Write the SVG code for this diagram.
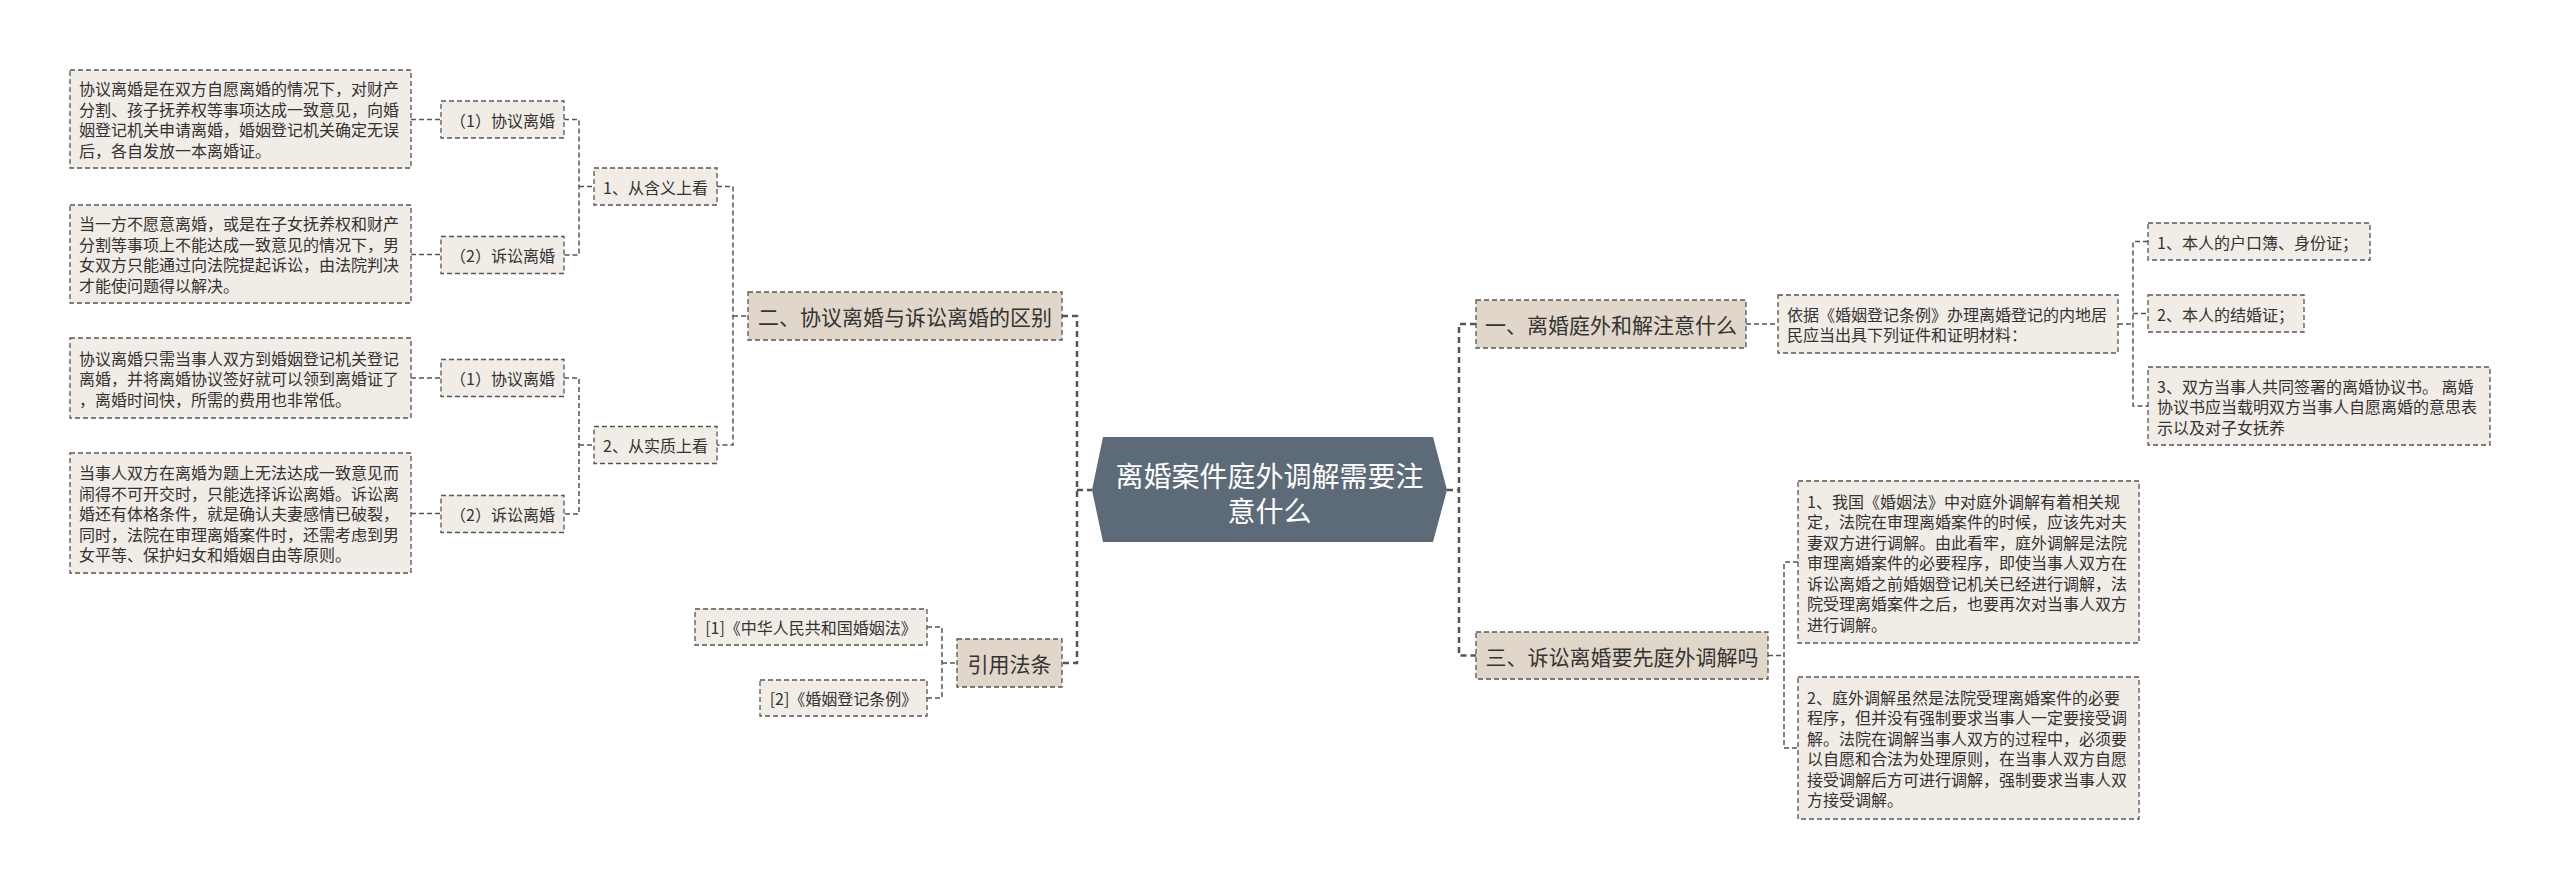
<svg xmlns="http://www.w3.org/2000/svg" width="2560" height="889" viewBox="0 0 2560 889">
<style>
text{font-family:"Noto Sans CJK SC","Noto Sans",sans-serif;fill:#333;dominant-baseline:central}
.s{font-size:16px}
.m{font-size:21px}
.c{text-anchor:middle}
.leaf{fill:#f1ede6;stroke:#555;stroke-width:1.3;stroke-dasharray:5 3}
.l1{fill:#e0d6c9;stroke:#555;stroke-width:1.3;stroke-dasharray:5 3}
.conn{fill:none;stroke:#555;stroke-width:1.5;stroke-dasharray:5 3}
.main{fill:none;stroke:#555;stroke-width:2.5;stroke-dasharray:6 4}
</style>
<rect width="2560" height="889" fill="#fff"/>
<g id="connectors">
<path class="conn" d="M411,119.5H441"/>
<path class="conn" d="M411,254.5H441"/>
<path class="conn" d="M411,378H441"/>
<path class="conn" d="M411,513.5H441"/>
<path class="conn" d="M564,119.5H579V255H564M579,186.5H594"/>
<path class="conn" d="M564,378H579V514H564M579,445H594"/>
<path class="conn" d="M717,186.5H733V445H717M733,316H748"/>
<path class="conn" d="M927,627H942V698H927M942,663H957"/>
<path class="main" d="M1062,316H1077V663H1062M1077,490H1092"/>
<path class="main" d="M1447,490H1459M1476,324H1459V655.5H1476"/>
<path class="conn" d="M1746,324H1778"/>
<path class="conn" d="M2118,324H2133M2148,241.5H2133V406H2148M2133,313.5H2148"/>
<path class="conn" d="M1768,655.5H1784M1798,562H1784V748H1798"/>
</g>
<g id="center">
<polygon points="1092,490 1103,437 1433,437 1447,490 1433,542 1103,542" fill="#5c6b77"/>
<text x="1269.5" y="475" class="c" style="font-size:28px;fill:#fff">离婚案件庭外调解需要注</text>
<text x="1269.5" y="510" class="c" style="font-size:28px;fill:#fff">意什么</text>
</g>
<g id="n2">
<rect class="l1" x="748" y="292" width="314" height="48"/>
<text class="m c" x="905" y="316">二、协议离婚与诉讼离婚的区别</text>
</g>
<g id="n2-1">
<rect class="leaf" x="594" y="168" width="123" height="37"/>
<text class="s c" x="655.5" y="186.5">1、从含义上看</text>
</g>
<g id="n2-2">
<rect class="leaf" x="594" y="426.5" width="123" height="37"/>
<text class="s c" x="655.5" y="445">2、从实质上看</text>
</g>
<g id="n2-1-1">
<rect class="leaf" x="441" y="101" width="123" height="37"/>
<text class="s c" x="502.5" y="119.5">（1）协议离婚</text>
</g>
<g id="n2-1-2">
<rect class="leaf" x="441" y="236.5" width="123" height="37"/>
<text class="s c" x="502.5" y="255">（2）诉讼离婚</text>
</g>
<g id="n2-2-1">
<rect class="leaf" x="441" y="359.5" width="123" height="37"/>
<text class="s c" x="502.5" y="378">（1）协议离婚</text>
</g>
<g id="n2-2-2">
<rect class="leaf" x="441" y="495.5" width="123" height="37"/>
<text class="s c" x="502.5" y="514">（2）诉讼离婚</text>
</g>
<g id="leafA1">
<rect class="leaf" x="70" y="70" width="341" height="98"/>
<text class="s" x="79" y="88.25">协议离婚是在双方自愿离婚的情况下，对财产</text>
<text class="s" x="79" y="108.75">分割、孩子抚养权等事项达成一致意见，向婚</text>
<text class="s" x="79" y="129.25">姻登记机关申请离婚，婚姻登记机关确定无误</text>
<text class="s" x="79" y="149.75">后，各自发放一本离婚证。</text>
</g>
<g id="leafA2">
<rect class="leaf" x="70" y="205" width="341" height="98"/>
<text class="s" x="79" y="223.25">当一方不愿意离婚，或是在子女抚养权和财产</text>
<text class="s" x="79" y="243.75">分割等事项上不能达成一致意见的情况下，男</text>
<text class="s" x="79" y="264.25">女双方只能通过向法院提起诉讼，由法院判决</text>
<text class="s" x="79" y="284.75">才能使问题得以解决。</text>
</g>
<g id="leafA3">
<rect class="leaf" x="70" y="338" width="341" height="80"/>
<text class="s" x="79" y="357.5">协议离婚只需当事人双方到婚姻登记机关登记</text>
<text class="s" x="79" y="378">离婚，并将离婚协议签好就可以领到离婚证了</text>
<text class="s" x="79" y="398.5">，离婚时间快，所需的费用也非常低。</text>
</g>
<g id="leafA4">
<rect class="leaf" x="70" y="453" width="341" height="120"/>
<text class="s" x="79" y="472">当事人双方在离婚为题上无法达成一致意见而</text>
<text class="s" x="79" y="492.5">闹得不可开交时，只能选择诉讼离婚。诉讼离</text>
<text class="s" x="79" y="513">婚还有体格条件，就是确认夫妻感情已破裂，</text>
<text class="s" x="79" y="533.5">同时，法院在审理离婚案件时，还需考虑到男</text>
<text class="s" x="79" y="554">女平等、保护妇女和婚姻自由等原则。</text>
</g>
<g id="ref">
<rect class="l1" x="957" y="639" width="105" height="48"/>
<text class="m c" x="1009.5" y="663">引用法条</text>
</g>
<g id="ref1">
<rect class="leaf" x="695" y="609" width="232" height="36"/>
<text class="s c" x="811" y="627">[1]《中华人民共和国婚姻法》</text>
</g>
<g id="ref2">
<rect class="leaf" x="760" y="680" width="167" height="36"/>
<text class="s c" x="843.5" y="698">[2]《婚姻登记条例》</text>
</g>
<g id="n1">
<rect class="l1" x="1476" y="300" width="270" height="48"/>
<text class="m c" x="1611" y="324">一、离婚庭外和解注意什么</text>
</g>
<g id="n1-1">
<rect class="leaf" x="1778" y="295" width="340" height="58"/>
<text class="s" x="1787" y="313.75">依据《婚姻登记条例》办理离婚登记的内地居</text>
<text class="s" x="1787" y="334.25">民应当出具下列证件和证明材料：</text>
</g>
<g id="n1-1-1">
<rect class="leaf" x="2148" y="223" width="222" height="37"/>
<text class="s" x="2157" y="241.5">1、本人的户口簿、身份证；</text>
</g>
<g id="n1-1-2">
<rect class="leaf" x="2148" y="295" width="156" height="37"/>
<text class="s" x="2157" y="313.5">2、本人的结婚证；</text>
</g>
<g id="n1-1-3">
<rect class="leaf" x="2148" y="367" width="342" height="78"/>
<text class="s" x="2157" y="385.5">3、双方当事人共同签署的离婚协议书。 离婚</text>
<text class="s" x="2157" y="406">协议书应当载明双方当事人自愿离婚的意思表</text>
<text class="s" x="2157" y="426.5">示以及对子女抚养</text>
</g>
<g id="n3">
<rect class="l1" x="1476" y="632" width="292" height="47"/>
<text class="m c" x="1622" y="655.5">三、诉讼离婚要先庭外调解吗</text>
</g>
<g id="n3-1">
<rect class="leaf" x="1798" y="481" width="341" height="162"/>
<text class="s" x="1807" y="500.5">1、我国《婚姻法》中对庭外调解有着相关规</text>
<text class="s" x="1807" y="521">定，法院在审理离婚案件的时候，应该先对夫</text>
<text class="s" x="1807" y="541.5">妻双方进行调解。由此看牢，庭外调解是法院</text>
<text class="s" x="1807" y="562">审理离婚案件的必要程序，即使当事人双方在</text>
<text class="s" x="1807" y="582.5">诉讼离婚之前婚姻登记机关已经进行调解，法</text>
<text class="s" x="1807" y="603">院受理离婚案件之后，也要再次对当事人双方</text>
<text class="s" x="1807" y="623.5">进行调解。</text>
</g>
<g id="n3-2">
<rect class="leaf" x="1798" y="677" width="341" height="142"/>
<text class="s" x="1807" y="696.75">2、庭外调解虽然是法院受理离婚案件的必要</text>
<text class="s" x="1807" y="717.25">程序，但并没有强制要求当事人一定要接受调</text>
<text class="s" x="1807" y="737.75">解。法院在调解当事人双方的过程中，必须要</text>
<text class="s" x="1807" y="758.25">以自愿和合法为处理原则，在当事人双方自愿</text>
<text class="s" x="1807" y="778.75">接受调解后方可进行调解，强制要求当事人双</text>
<text class="s" x="1807" y="799.25">方接受调解。</text>
</g>
</svg>
